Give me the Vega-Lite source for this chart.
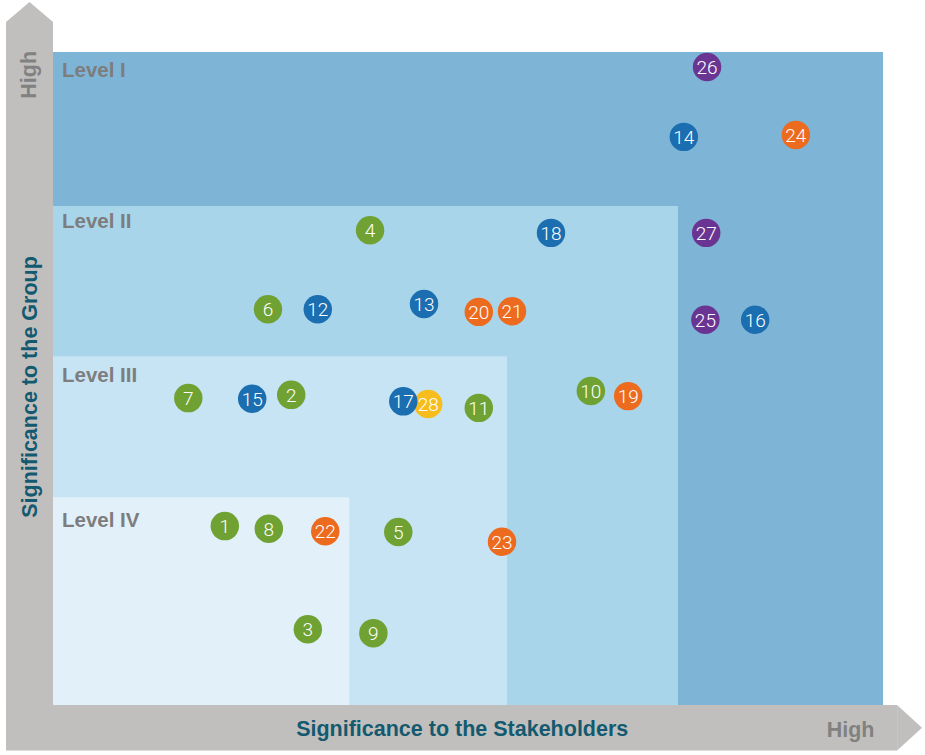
{
  "$schema": "https://vega.github.io/schema/vega-lite/v6.json",
  "width": 925,
  "height": 755,
  "autosize": "none",
  "padding": 0,
  "background": "white",
  "config": {"view": {"stroke": null}},
  "datasets": {
    "bars": [
      {"part": "vertical", "x": -5.66, "x2": 0, "y": -6.9, "y2": 104.6},
      {"part": "bottom", "x": -5.66, "x2": 101.7, "y": -6.95, "y2": 0}
    ],
    "topArrow": [
      {"x": -5.66, "y": 104.6, "y2": 104.6},
      {"x": -2.83, "y": 107.66, "y2": 104.6},
      {"x": 0, "y": 104.6, "y2": 104.6}
    ],
    "rightArrow": [
      {"y": -6.95, "x": 101.7, "x2": 101.7},
      {"y": -3.5, "x": 104.7, "x2": 101.7},
      {"y": 0, "x": 101.7, "x2": 101.7}
    ],
    "levels": [
      {"level": "Level I", "x": 0, "x2": 100, "y": 0, "y2": 100, "ly": 97.1, "color": "#7eb5d6"},
      {"level": "Level II", "x": 0, "x2": 75.3, "y": 0, "y2": 76.4, "ly": 74.0, "color": "#a9d5eb"},
      {"level": "Level III", "x": 0, "x2": 54.7, "y": 0, "y2": 53.4, "ly": 50.4, "color": "#c6e4f4"},
      {"level": "Level IV", "x": 0, "x2": 35.7, "y": 0, "y2": 31.8, "ly": 28.2, "color": "#e2f0f9"}
    ],
    "issues": [
      {"id": "26", "stakeholders": 78.8, "group": 97.7, "category": "purple"},
      {"id": "14", "stakeholders": 76.0, "group": 87.0, "category": "blue"},
      {"id": "24", "stakeholders": 89.5, "group": 87.3, "category": "orange"},
      {"id": "4", "stakeholders": 38.2, "group": 72.7, "category": "green"},
      {"id": "18", "stakeholders": 60.0, "group": 72.3, "category": "blue"},
      {"id": "27", "stakeholders": 78.7, "group": 72.3, "category": "purple"},
      {"id": "6", "stakeholders": 25.9, "group": 60.6, "category": "green"},
      {"id": "12", "stakeholders": 31.9, "group": 60.6, "category": "blue"},
      {"id": "13", "stakeholders": 44.7, "group": 61.4, "category": "blue"},
      {"id": "20", "stakeholders": 51.3, "group": 60.2, "category": "orange"},
      {"id": "21", "stakeholders": 55.3, "group": 60.3, "category": "orange"},
      {"id": "25", "stakeholders": 78.6, "group": 59.0, "category": "purple"},
      {"id": "16", "stakeholders": 84.6, "group": 59.0, "category": "blue"},
      {"id": "7", "stakeholders": 16.3, "group": 47.0, "category": "green"},
      {"id": "15", "stakeholders": 24.0, "group": 46.9, "category": "blue"},
      {"id": "2", "stakeholders": 28.7, "group": 47.5, "category": "green"},
      {"id": "28", "stakeholders": 45.2, "group": 46.1, "category": "yellow"},
      {"id": "17", "stakeholders": 42.2, "group": 46.5, "category": "blue"},
      {"id": "11", "stakeholders": 51.3, "group": 45.5, "category": "green"},
      {"id": "10", "stakeholders": 64.8, "group": 48.1, "category": "green"},
      {"id": "19", "stakeholders": 69.3, "group": 47.3, "category": "orange"},
      {"id": "1", "stakeholders": 20.7, "group": 27.4, "category": "green"},
      {"id": "8", "stakeholders": 26.0, "group": 27.0, "category": "green"},
      {"id": "22", "stakeholders": 32.8, "group": 26.6, "category": "orange"},
      {"id": "5", "stakeholders": 41.6, "group": 26.5, "category": "green"},
      {"id": "23", "stakeholders": 54.1, "group": 25.0, "category": "orange"},
      {"id": "3", "stakeholders": 30.7, "group": 11.6, "category": "green"},
      {"id": "9", "stakeholders": 38.6, "group": 11.0, "category": "green"}
    ],
    "highLabels": [
      {"text": "High", "x": -2.77, "y": 96.5, "angle": 270},
      {"text": "High", "x": 96.1, "y": -3.98, "angle": 0}
    ],
    "titles": [
      {"text": "Significance to the Stakeholders", "x": 49.3, "y": -3.83, "angle": 0},
      {"text": "Significance to the Group", "x": -2.65, "y": 48.7, "angle": 270}
    ]
  },
  "encoding": {
    "x": {"type": "quantitative", "scale": {"domain": [-6.386, 105.06], "nice": false, "zero": false}, "axis": null},
    "y": {"type": "quantitative", "scale": {"domain": [-7.657, 107.96], "nice": false, "zero": false}, "axis": null}
  },
  "layer": [
    {
      "data": {"name": "bars"},
      "mark": {"type": "rect", "color": "#c1bfbd"},
      "encoding": {
        "x": {"field": "x", "type": "quantitative"},
        "x2": {"field": "x2"},
        "y": {"field": "y", "type": "quantitative"},
        "y2": {"field": "y2"}
      }
    },
    {
      "data": {"name": "topArrow"},
      "mark": {"type": "area", "color": "#c1bfbd", "orient": "vertical"},
      "encoding": {
        "x": {"field": "x", "type": "quantitative"},
        "y": {"field": "y", "type": "quantitative"},
        "y2": {"field": "y2"}
      }
    },
    {
      "data": {"name": "rightArrow"},
      "mark": {"type": "area", "color": "#c1bfbd", "orient": "horizontal"},
      "encoding": {
        "y": {"field": "y", "type": "quantitative"},
        "x": {"field": "x", "type": "quantitative"},
        "x2": {"field": "x2"}
      }
    },
    {
      "data": {"name": "levels"},
      "mark": {"type": "rect"},
      "encoding": {
        "x": {"field": "x", "type": "quantitative"},
        "x2": {"field": "x2"},
        "y": {"field": "y", "type": "quantitative"},
        "y2": {"field": "y2"},
        "color": {"field": "color", "type": "nominal", "scale": null},
        "order": {"field": "x2", "sort": "descending"}
      }
    },
    {
      "data": {"name": "levels"},
      "mark": {"type": "text", "align": "left", "baseline": "middle", "font": "Liberation Sans", "fontWeight": "bold", "fontSize": 20.5, "color": "#7d7d7d", "dx": 9},
      "encoding": {
        "x": {"field": "x", "type": "quantitative"},
        "y": {"field": "ly", "type": "quantitative"},
        "text": {"field": "level"}
      }
    },
    {
      "data": {"name": "issues"},
      "mark": {"type": "circle", "size": 810, "opacity": 1},
      "encoding": {
        "x": {"field": "stakeholders", "type": "quantitative"},
        "y": {"field": "group", "type": "quantitative"},
        "color": {
          "field": "category",
          "type": "nominal",
          "scale": {
            "domain": ["green", "blue", "orange", "purple", "yellow"],
            "range": ["#6fa133", "#1b6eaf", "#ec6b1f", "#6a3592", "#f6bd1c"]
          },
          "legend": null
        }
      }
    },
    {
      "data": {"name": "issues"},
      "mark": {"type": "text", "align": "center", "baseline": "middle", "font": "Roboto", "fontWeight": 300, "fontSize": 19, "color": "white", "dy": 1},
      "encoding": {
        "x": {"field": "stakeholders", "type": "quantitative"},
        "y": {"field": "group", "type": "quantitative"},
        "text": {"field": "id"}
      }
    },
    {
      "data": {"name": "highLabels"},
      "mark": {"type": "text", "align": "center", "baseline": "middle", "font": "Liberation Sans", "fontWeight": "bold", "fontSize": 21.5, "color": "#818181"},
      "encoding": {
        "x": {"field": "x", "type": "quantitative"},
        "y": {"field": "y", "type": "quantitative"},
        "angle": {"field": "angle", "type": "quantitative", "scale": null},
        "text": {"field": "text"}
      }
    },
    {
      "data": {"name": "titles"},
      "mark": {"type": "text", "align": "center", "baseline": "middle", "font": "Liberation Sans", "fontWeight": "bold", "fontSize": 21.5, "color": "#135a70"},
      "encoding": {
        "x": {"field": "x", "type": "quantitative"},
        "y": {"field": "y", "type": "quantitative"},
        "angle": {"field": "angle", "type": "quantitative", "scale": null},
        "text": {"field": "text"}
      }
    }
  ]
}
